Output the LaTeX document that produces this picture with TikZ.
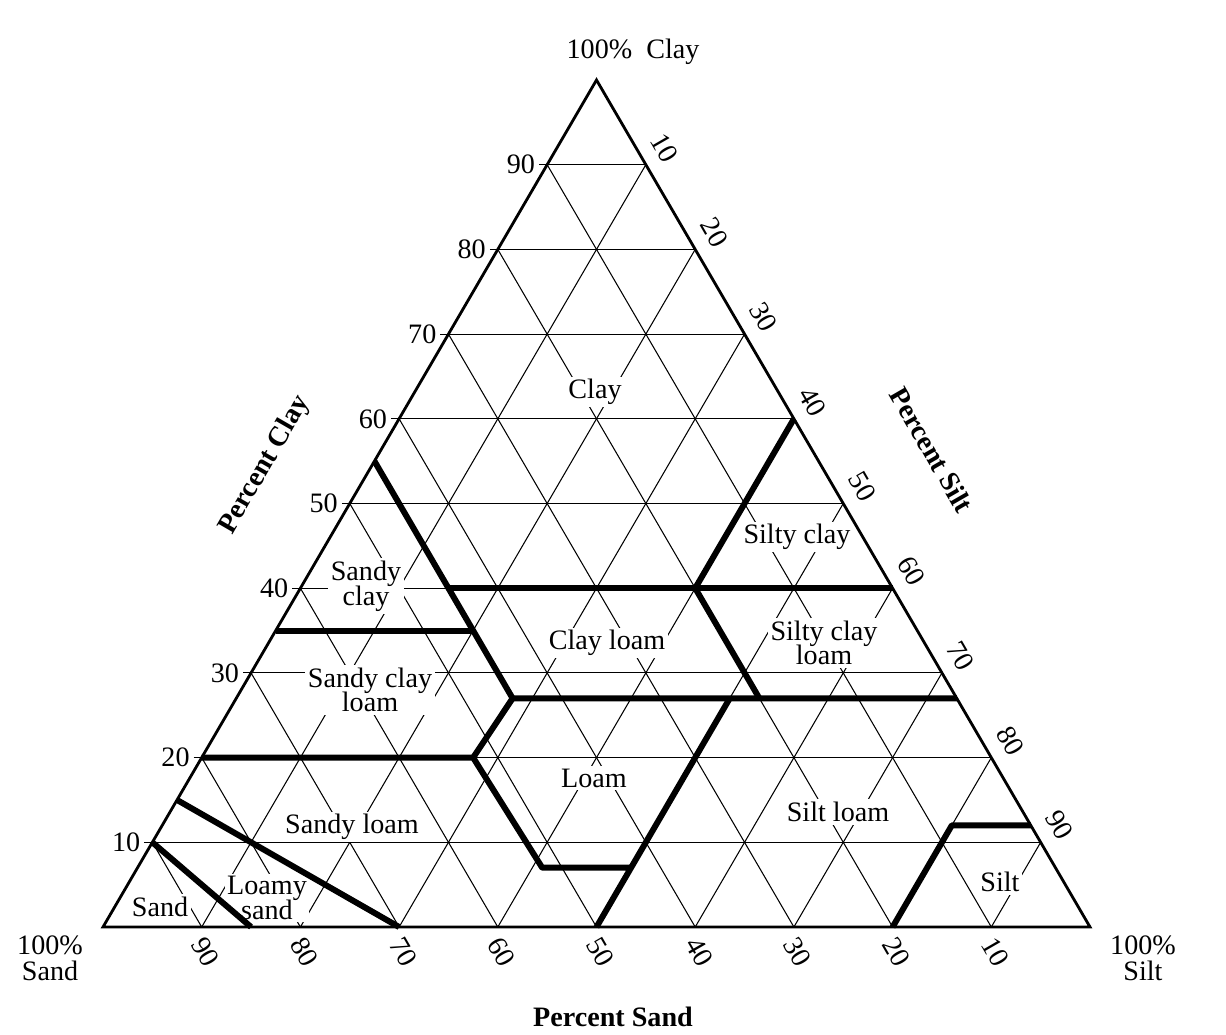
\documentclass[tikz,border=0pt]{standalone}
\usepackage{fontspec}
\setmainfont{Liberation Serif}
\makeatletter
\pgfkeys{/tern/.cd, c/.store in=\tern@c, s/.store in=\tern@s, c=0, s=0}
\tikzdeclarecoordinatesystem{tern}{\pgfkeys{/tern/.cd,#1}%
  \pgfmathsetmacro\tern@x{103+9.87*(\tern@s+0.5*\tern@c)}%
  \pgfmathsetmacro\tern@y{927-8.47*\tern@c}%
  \pgfpointxy{\tern@x}{\tern@y}}
\makeatother
\tikzset{
  grid/.style={line width=0.6pt},
  edge/.style={line width=1.6pt, line join=miter},
  bound/.style={line width=3.4pt, line join=round},
  lab/.style={font=\fontsize{16}{17}\selectfont, align=center, fill=white, inner sep=1.5pt},
  num/.style={font=\fontsize{16}{17}\selectfont, inner sep=1pt},
  ttl/.style={font=\bfseries\fontsize{16}{18}\selectfont, align=center},
  ttr/.style={font=\fontsize{16}{17}\selectfont, align=center}
}
\begin{document}
\begin{tikzpicture}[x=0.02cm,y=-0.02cm]
\useasboundingbox (0,0) rectangle (1226,1034);
\fill[white] (0,0) rectangle (1226,1034);
% grid
\foreach \k in {10,20,...,90}{
  \pgfmathtruncatemacro\r{100-\k}
  \draw[grid] ([xshift=-0.16cm]tern cs:c=\k,s=0) -- (tern cs:c=\k,s=\r);
  \draw[grid] (tern cs:c=0,s=\k) -- (tern cs:c=\r,s=\k);
  \draw[grid] (tern cs:c=0,s=\r) -- (tern cs:c=\r,s=0);
}
% region labels
\node[lab] at (595,392) {Clay};
\node[lab] at (797,537) {Silty clay};
\node[lab] at (366,586) {Sandy\\[-3pt]clay};
\node[lab] at (607,643) {Clay loam};
\node[lab] at (824,643) {Silty clay\\[-3pt]loam};
\node[lab] at (370,690) {Sandy clay\\[-3pt]loam};
\node[lab] at (594,778) {Loam};
\node[lab] at (838,812) {Silt loam};
\node[lab] at (352,827) {Sandy loam};
\node[lab] at (267,898) {Loamy\\[-3pt]sand};
\node[lab] at (160,907) {Sand};
\node[lab] at (1000,882) {Silt};
% outer triangle
\draw[edge] (tern cs:c=0,s=0) -- (tern cs:c=0,s=100) -- (tern cs:c=100,s=0) -- cycle;
% class boundaries
\draw[bound] (tern cs:c=10,s=0) -- (tern cs:c=0,s=15);
\draw[bound] (tern cs:c=15,s=0) -- (tern cs:c=0,s=30);
\draw[bound] (tern cs:c=20,s=0) -- (tern cs:c=20,s=27.5) -- (tern cs:c=7,s=41) -- (tern cs:c=7,s=50) -- (tern cs:c=0,s=50);
\draw[bound] (tern cs:c=7,s=50) -- (tern cs:c=27,s=50);
\draw[bound] (tern cs:c=20,s=27.5) -- (tern cs:c=27,s=28);
\draw[bound] (tern cs:c=55,s=0) -- (tern cs:c=27,s=28) -- (tern cs:c=27,s=73);
\draw[bound] (tern cs:c=35,s=0) -- (tern cs:c=35,s=20);
\draw[bound] (tern cs:c=40,s=15) -- (tern cs:c=40,s=60);
\draw[bound] (tern cs:c=60,s=40) -- (tern cs:c=40,s=40) -- (tern cs:c=27,s=53);
\draw[bound] (tern cs:c=0,s=80) -- (tern cs:c=12,s=80) -- (tern cs:c=12,s=88);
% axis numbers
\foreach \k in {10,20,...,90}{
  \pgfmathtruncatemacro\r{100-\k}
  \node[num, anchor=east] at ([xshift=-0.2cm]tern cs:c=\k,s=0) {\k};
  \node[num, rotate=-60] at ([xshift=0.38cm,yshift=0.34cm]tern cs:c=\r,s=\k) {\k};
  \node[num, rotate=-60] at ([xshift=0.08cm,yshift=-0.5cm]tern cs:c=0,s=\r) {\k};
}
% titles
\node[ttr] at (633,52) {100\%\ \ Clay};
\node[ttr] at (50,958) {100\%\\[-2pt]Sand};
\node[ttr] at (1143,958) {100\%\\[-2pt]Silt};
\node[ttl] at (613,1017) {Percent Sand};
\node[ttl, rotate=60] at (265,465) {Percent Clay};
\node[ttl, rotate=-60] at (932,450) {Percent Silt};
\end{tikzpicture}
\end{document}
